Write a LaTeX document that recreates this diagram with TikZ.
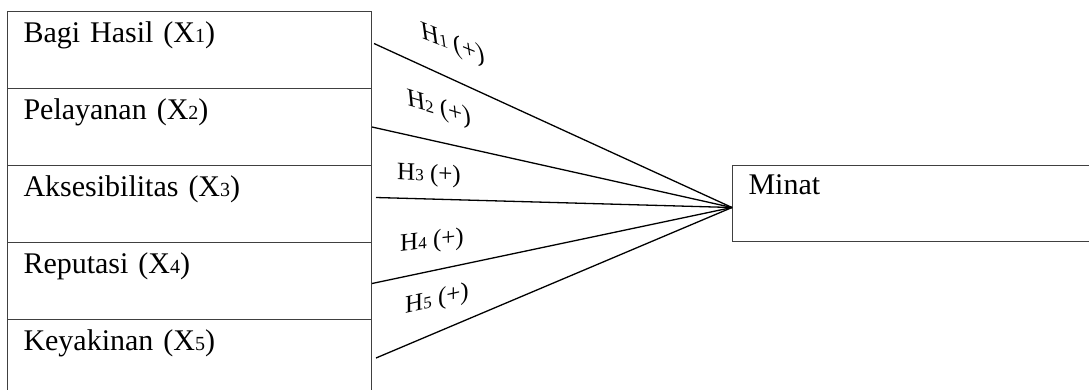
\documentclass[tikz,border=0pt]{standalone}
\usepackage{fontspec}
\setmainfont{Liberation Serif}
\usepackage{tikz}
\usetikzlibrary{positioning}
\newcommand{\idx}[2][20]{{\fontsize{#1}{#1}\selectfont #2}}

\begin{document}
\begin{tikzpicture}[x=1pt,y=-1pt]
	\useasboundingbox (0,0) rectangle (1089,389);
	\clip (0,0) rectangle (1089,389);
	\begin{scope}[every node/.style={rectangle,draw=black!75,line width=1pt,anchor=north west,
	              inner xsep=16pt,inner ysep=0pt,text width=332pt,text height=31pt,text depth=46pt,
	              font=\fontsize{30}{33}\selectfont}]
	    \node (x1) at (7,11) {Bagi Hasil (X\idx{1})};
	    \node (x2) at (7,88) {Pelayanan (X\idx{2})};
	    \node (x3) at (7,165) {Aksesibilitas (X\idx{3})};
	    \node (x4) at (7,242) {Reputasi (X\idx{4})};
	    \node (x5) at (7,319) {Keyakinan (X\idx{5})};
	    \node[text width=360pt,text height=29pt,text depth=47pt] (y) at (732,165) {Minat};
	\end{scope}
	\coordinate (hub) at ([yshift=-4pt]y.west);

	\begin{scope}[every node/.style={transform shape,inner sep=0pt,font=\fontsize{25}{28}\selectfont},
	              every edge/.style={draw=black,line width=1.3pt}]
	    \path ([xshift=2pt,yshift=6.5pt]x1.east) edge (hub);
	    \path (x2.east) edge (hub);
	    \path ([xshift=4pt,yshift=6.5pt]x3.east) edge (hub);
	    \path ([yshift=-2.5pt]x4.east) edge (hub);
	    \path ([xshift=4pt]x5.east) edge (hub);
	    \node[yslant=-0.4,xslant=-0.15] (h1) at (453,45) {H\idx[17]{1} (+)};
	    \node[yslant=-0.3,xslant=-0.1] (h2) at (439,109) {H\idx[17]{2} (+)};
	    \node[yslant=-0.05] (h3) at (429,175) {H\idx[17]{3} (+)};
	    \node[yslant=0.12] (h4) at (432,242) {H\idx[17]{4} (+)};
	    \node[yslant=0.22] (h5) at (437,300) {H\idx[17]{5} (+)};
	\end{scope}
\end{tikzpicture}
\end{document}
